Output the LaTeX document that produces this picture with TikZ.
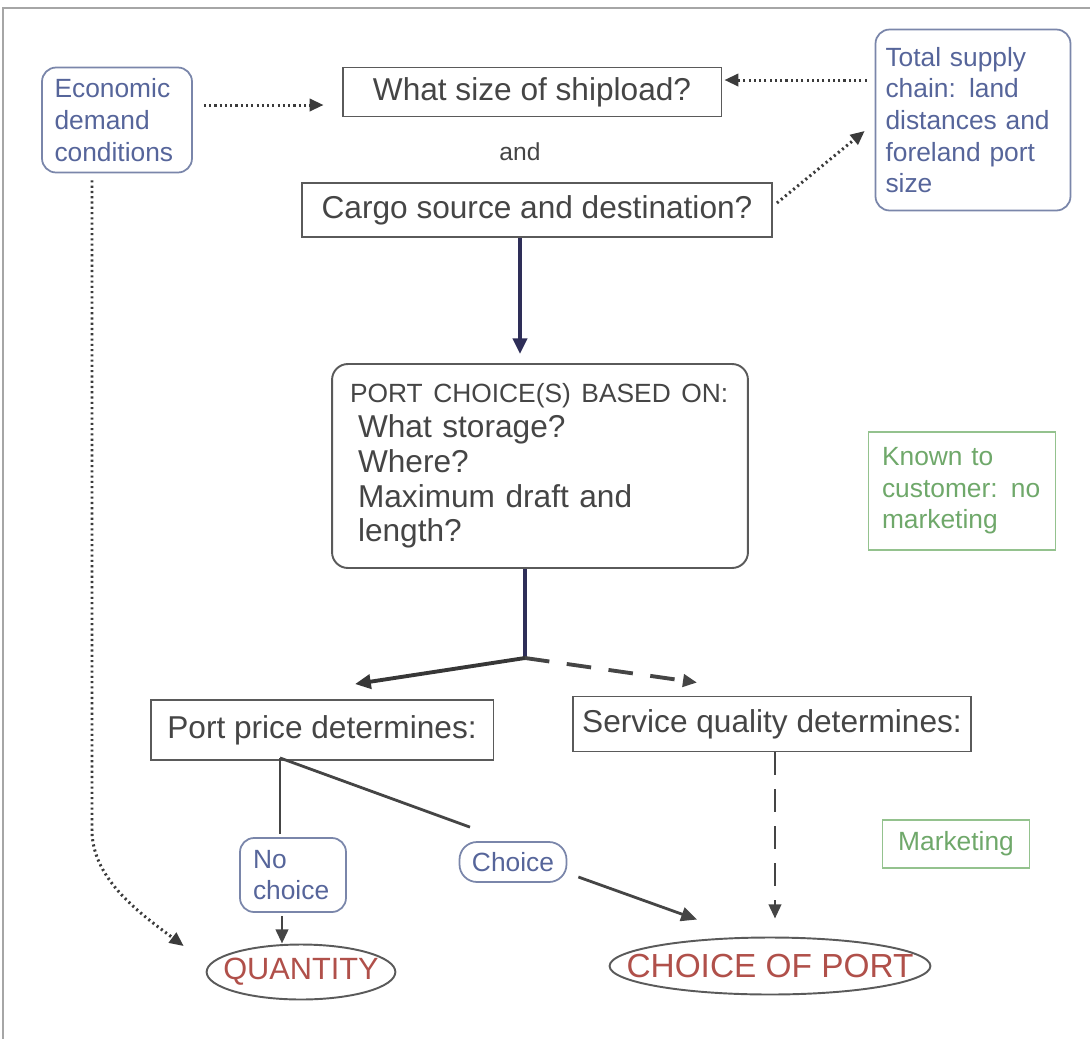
\documentclass[tikz,border=0pt]{standalone}
\usepackage{fontspec}
\setmainfont{Liberation Sans}
\usetikzlibrary{arrows.meta,shapes.geometric,positioning}

\definecolor{boxgrey}{HTML}{5A5A5A}
\definecolor{textgrey}{HTML}{454545}
\definecolor{bluetext}{HTML}{56659A}
\definecolor{blueline}{HTML}{7A86AA}
\definecolor{redtext}{HTML}{B0504A}
\definecolor{greentext}{HTML}{6FA86A}
\definecolor{greenline}{HTML}{94C28E}
\definecolor{navy}{HTML}{2E2E58}

\begin{document}
\begin{tikzpicture}[
    x=0.02cm, y=-0.02cm,
    bigfont/.style={font=\fontsize{18}{20}\selectfont},
    smallfont/.style={font=\fontsize{15}{18}\selectfont},
    block/.style={rectangle, draw=boxgrey, line width=1.1pt, text=textgrey, bigfont, inner sep=0pt},
    roundblock/.style={rectangle, rounded corners=8pt, draw=blueline, line width=1pt, text=bluetext, smallfont, inner sep=0pt},
    greenblock/.style={rectangle, draw=greenline, line width=1pt, text=greentext, smallfont, inner sep=0pt},
    outcome/.style={ellipse, draw=boxgrey, line width=1.1pt, text=redtext, inner ysep=0pt},
    dotarrow/.style={line width=1.7pt, dash pattern=on 1.2pt off 1.8pt, draw=textgrey!85!black, -{Triangle[length=8pt,width=7pt]}},
    arrow/.style={line width=2.2pt, -{Triangle[length=9pt,width=8pt]}},
    dasharrow/.style={line width=1.5pt, dash pattern=on 13pt off 8pt, draw=textgrey, -{Triangle[length=8pt,width=7pt]}},
    plainline/.style={line width=1.6pt, draw=textgrey}
]
\useasboundingbox (0,0) rectangle (1090,1039);
\draw[line width=1.2pt, draw=gray!70] (3,1039) -- (3,8) -- (1090,8);

% top row
\node[roundblock, align=left, text width=2.5cm, inner xsep=0.25cm, minimum height=2.1cm] (econ) at (117,120) {Economic\\demand\\conditions};
\node[block, minimum width=7.58cm, minimum height=0.98cm] (ship) at (532,92) {What size of shipload?};
\node[text=textgrey, font=\fontsize{14}{16}\selectfont] (and) at (520,152) {and};
\node[block, minimum width=9.4cm, minimum height=1.08cm] (cargo) at (537,210) {Cargo source and destination?};
\node[roundblock, align=left, text width=3.5cm, inner xsep=0.2cm, minimum height=3.62cm] (supply) at (973,120) {Total supply\\chain: land\\distances and\\foreland port\\size};

% port choice
\node[block, rounded corners=9pt, align=left, text width=7.6cm, inner xsep=0.36cm, minimum height=4.08cm, font=\fontsize{18}{19.8}\selectfont] (portchoice) at (540,466)
  {{\fontsize{15}{19.8}\selectfont PORT CHOICE(S) BASED ON:}\\
   \hspace{0.16cm}What storage?\\
   \hspace{0.16cm}Where?\\
   \hspace{0.16cm}Maximum draft and\\
   \hspace{0.16cm}length?};
\node[greenblock, align=left, text width=3.2cm, inner xsep=0.27cm, minimum height=2.36cm] (known) at (962,491) {Known to\\customer: no\\marketing};

% second level
\node[block, minimum width=6.86cm, minimum height=1.2cm] (pprice) at (322,730) {Port price determines:};
\node[block, minimum width=7.98cm, minimum height=1.1cm] (squal) at (772,724) {Service quality determines:};
\node[roundblock, align=left, text width=1.6cm, inner xsep=0.26cm, minimum height=1.48cm] (nochoice) at (293,875) {No\\choice};
\node[roundblock, rounded corners=10pt, minimum width=2.14cm, minimum height=0.8cm] (choice) at (513,862) {Choice};
\node[greenblock, minimum width=2.94cm, minimum height=0.96cm] (marketing) at (956,844) {Marketing};

% outcomes
\node[outcome, inner xsep=-0.22cm, minimum height=1.1cm, font=\fontsize{17.5}{20}\selectfont] (quantity) at (301,972) {QUANTITY};
\node[outcome, inner xsep=-0.6cm, minimum height=1.14cm, font=\fontsize{19}{21}\selectfont] (cport) at (770,966) {CHOICE OF PORT};

\coordinate (junc) at (525,658);
\coordinate (fork) at ([shift={(-42,-3)}]pprice.south);

% dotted influences
\draw[dotarrow] ([shift={(11,-15)}]econ.east) -- ([shift={(-18,13)}]ship.west);
\draw[dotarrow] ([shift={(-8,-40)}]supply.west) -- ([shift={(2,-12)}]ship.east);
\draw[dotarrow] ([shift={(4,-7)}]cargo.east) -- ([shift={(-10,11)}]supply.west);
\draw[dotarrow] ([shift={(-25,7)}]econ.south) -- ++(0,650) .. controls +(0,50) and +(-40,-30) .. ([shift={(-22,-26)}]quantity.west);

% main flow
\draw[arrow, draw=navy] ([shift={(-17,0)}]cargo.south) -- ([shift={(-20,-9)}]portchoice.north);
\draw[line width=2.2pt, draw=navy] ([shift={(-15,0)}]portchoice.south) -- (junc);
\draw[arrow, draw=textgrey!80!black] (junc) -- ([shift={(33,-15)}]pprice.north);
\draw[dasharrow, line width=2.2pt, dash pattern=on 14pt off 10pt] (junc) -- ([shift={(-75,-13)}]squal.north);

% price branch
\draw[plainline] (fork) -- ([shift={(-13,-3)}]nochoice.north);
\draw[plainline] (fork) -- ([shift={(-43,-14)}]choice.north);
\draw[plainline, -{Triangle[length=8pt,width=7pt]}] ([shift={(-11,3)}]nochoice.south) -- ([shift={(-19,0)}]quantity.north);
\draw[plainline, -{Triangle[length=9pt,width=8pt]}] ([shift={(11,15)}]choice.east) -- ([shift={(-73,-17)}]cport.north);

% quality branch
\draw[dasharrow] ([shift={(3,0)}]squal.south) -- ([shift={(5,-18)}]cport.north);

\end{tikzpicture}
\end{document}
